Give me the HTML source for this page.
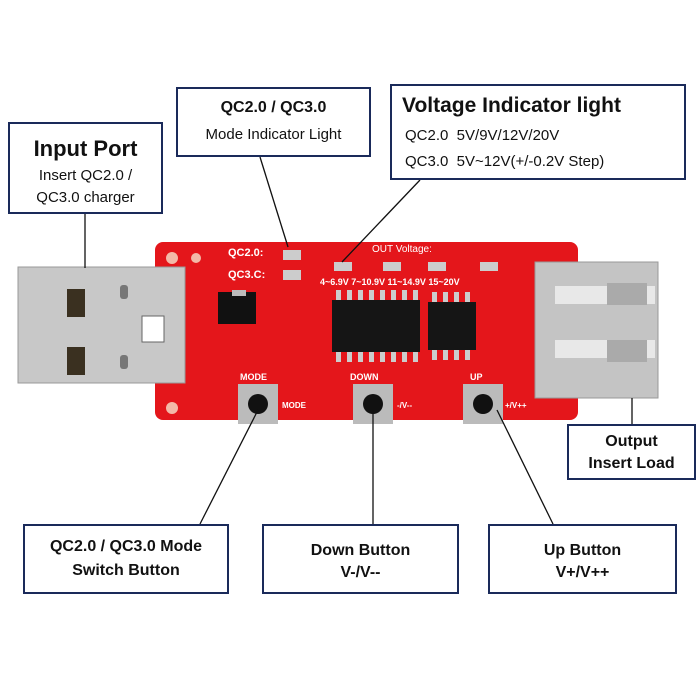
<!DOCTYPE html>
<html><head><style>
body{margin:0;width:700px;height:700px;background:#fff;position:relative;overflow:hidden;font-family:"Liberation Sans",sans-serif}
.b{position:absolute;border:2px solid #1a2a5a;background:#fff;box-sizing:border-box;text-align:center;color:#111}
.a{position:absolute}
</style></head><body>
<svg class="a" style="left:0;top:0" width="700" height="700">
<!-- PCB -->
<rect x="155" y="242" width="423" height="178" rx="8" fill="#e4161b"/>
<circle cx="172" cy="258" r="6" fill="#f3b9a8"/><circle cx="196" cy="258" r="5" fill="#f3b9a8"/>
<circle cx="172" cy="408" r="6" fill="#f3b9a8"/>
<!-- left USB -->
<rect x="18" y="267" width="167" height="116" fill="#c8c8c8"/>
<rect x="18" y="267" width="167" height="116" fill="none" stroke="#999"/>
<rect x="67" y="289" width="18" height="28" fill="#3a3020"/>
<rect x="67" y="347" width="18" height="28" fill="#3a3020"/>
<rect x="142" y="316" width="22" height="26" fill="#fff" stroke="#666"/>
<rect x="120" y="285" width="8" height="14" rx="3" fill="#777"/>
<rect x="120" y="355" width="8" height="14" rx="3" fill="#777"/>
<!-- right USB -->
<rect x="535" y="262" width="123" height="136" fill="#c4c4c4" stroke="#999"/>
<rect x="555" y="286" width="100" height="18" fill="#e8e8e8"/>
<rect x="555" y="340" width="100" height="18" fill="#e8e8e8"/>
<rect x="607" y="283" width="40" height="22" fill="#aaa"/>
<rect x="607" y="340" width="40" height="22" fill="#aaa"/>
<!-- chips -->
<rect x="218" y="292" width="38" height="32" fill="#111"/>
<rect x="232" y="290" width="14" height="6" fill="#bbb"/>
<rect x="332" y="300" width="88" height="52" fill="#151515"/>
<rect x="428" y="302" width="48" height="48" fill="#151515"/>
<g fill="#ccc">
<rect x="336" y="290" width="5" height="10"/><rect x="347" y="290" width="5" height="10"/><rect x="358" y="290" width="5" height="10"/><rect x="369" y="290" width="5" height="10"/><rect x="380" y="290" width="5" height="10"/><rect x="391" y="290" width="5" height="10"/><rect x="402" y="290" width="5" height="10"/><rect x="413" y="290" width="5" height="10"/>
<rect x="336" y="352" width="5" height="10"/><rect x="347" y="352" width="5" height="10"/><rect x="358" y="352" width="5" height="10"/><rect x="369" y="352" width="5" height="10"/><rect x="380" y="352" width="5" height="10"/><rect x="391" y="352" width="5" height="10"/><rect x="402" y="352" width="5" height="10"/><rect x="413" y="352" width="5" height="10"/>
<rect x="432" y="292" width="5" height="10"/><rect x="443" y="292" width="5" height="10"/><rect x="454" y="292" width="5" height="10"/><rect x="465" y="292" width="5" height="10"/>
<rect x="432" y="350" width="5" height="10"/><rect x="443" y="350" width="5" height="10"/><rect x="454" y="350" width="5" height="10"/><rect x="465" y="350" width="5" height="10"/>
<!-- LEDs -->
<rect x="283" y="250" width="18" height="10"/><rect x="283" y="270" width="18" height="10"/>
<rect x="334" y="262" width="18" height="9"/><rect x="383" y="262" width="18" height="9"/><rect x="428" y="262" width="18" height="9"/><rect x="480" y="262" width="18" height="9"/>
</g>
<!-- buttons -->
<g>
<rect x="238" y="384" width="40" height="40" fill="#bbb"/><circle cx="258" cy="404" r="10" fill="#111"/>
<rect x="353" y="384" width="40" height="40" fill="#bbb"/><circle cx="373" cy="404" r="10" fill="#111"/>
<rect x="463" y="384" width="40" height="40" fill="#bbb"/><circle cx="483" cy="404" r="10" fill="#111"/>
</g>
<g fill="#fff" font-family="Liberation Sans" font-size="11" font-weight="bold">
<text x="228" y="256">QC2.0:</text><text x="228" y="278">QC3.C:</text>
<text x="372" y="252" font-weight="normal" font-size="10">OUT Voltage:</text>
<text x="320" y="285" font-size="9">4~6.9V 7~10.9V 11~14.9V 15~20V</text>
<text x="240" y="380" font-size="9">MODE</text><text x="350" y="380" font-size="9">DOWN</text><text x="470" y="380" font-size="9">UP</text>
<text x="282" y="408" font-size="8">MODE</text><text x="397" y="408" font-size="8">-/V--</text><text x="505" y="408" font-size="8">+/V++</text>
</g>
<!-- leader lines -->
<g stroke="#111" stroke-width="1.3">
<line x1="85" y1="214" x2="85" y2="268"/>
<line x1="260" y1="157" x2="288" y2="247"/>
<line x1="420" y1="180" x2="342" y2="262"/>
<line x1="632" y1="398" x2="632" y2="424"/>
<line x1="258" y1="410" x2="200" y2="524"/>
<line x1="373" y1="410" x2="373" y2="524"/>
<line x1="497" y1="410" x2="553" y2="524"/>
</g>
</svg>
<div class="b" style="left:8px;top:122px;width:155px;height:92px"><div style="font-size:22px;font-weight:bold;margin-top:12px">Input Port</div><div style="font-size:15px;line-height:22px;margin-top:3px">Insert QC2.0 /<br>QC3.0 charger</div></div>
<div class="b" style="left:176px;top:87px;width:195px;height:70px"><div style="font-size:16px;font-weight:bold;margin-top:10px">QC2.0 / QC3.0</div><div style="font-size:15px;margin-top:9px">Mode Indicator Light</div></div>
<div class="b" style="left:390px;top:84px;width:296px;height:96px;text-align:left"><div style="font-size:21px;font-weight:bold;margin:8px 0 0 10px">Voltage Indicator light</div><div style="font-size:15px;margin:9px 0 0 13px">QC2.0&nbsp; 5V/9V/12V/20V</div><div style="font-size:15px;margin:9px 0 0 13px">QC3.0&nbsp; 5V~12V(+/-0.2V Step)</div></div>
<div class="b" style="left:567px;top:424px;width:129px;height:56px"><div style="font-size:16px;font-weight:bold;line-height:22px;margin-top:5px">Output<br>Insert Load</div></div>
<div class="b" style="left:23px;top:524px;width:206px;height:70px"><div style="font-size:16px;font-weight:bold;line-height:24px;margin-top:9px">QC2.0 / QC3.0 Mode<br>Switch Button</div></div>
<div class="b" style="left:262px;top:524px;width:197px;height:70px"><div style="font-size:16px;font-weight:bold;line-height:22px;margin-top:14px">Down Button<br>V-/V--</div></div>
<div class="b" style="left:488px;top:524px;width:189px;height:70px"><div style="font-size:16px;font-weight:bold;line-height:22px;margin-top:14px">Up Button<br>V+/V++</div></div>
</body></html>
